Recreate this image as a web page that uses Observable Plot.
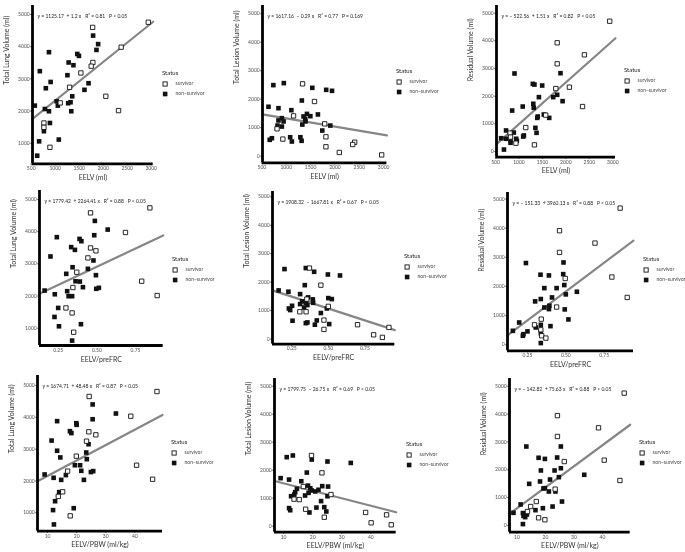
<!DOCTYPE html>
<html>
<head>
<meta charset="utf-8">
<script src="https://cdn.jsdelivr.net/npm/d3@7"></script>
<script src="https://cdn.jsdelivr.net/npm/@observablehq/plot@0.6"></script>
<style>
  body { margin: 0; background: #fff; }
  #chart { position: relative; width: 685px; height: 552px; background: #fff; font-family: Lato, "Open Sans", sans-serif; overflow: hidden; }
  #chart svg { position: absolute; overflow: visible; will-change: transform; }
</style>
</head>
<body>
<div id="chart"></div>
<script>
// ---- Axis titles and ticks ----
const xTitles = ["EELV (ml)", "EELV/preFRC", "EELV/PBW (ml/kg)"];          // one per row
const yTitles = ["Total Lung Volume (ml)", "Total Lesion Volume (ml)", "Residual Volume (ml)"]; // one per column
const eelvTicks = [500, 1000, 1500, 2000, 2500, 3000];
const ratioTicks = [0.25, 0.50, 0.75];
const pbwTicks = [10, 20, 30, 40];
const volumeTicks = [0, 1000, 2000, 3000, 4000, 5000];
const lungTicks = [1000, 2000, 3000, 4000, 5000];
const statusLabels = ["survivor", "non\u2212survivor"];

// ---- Linear fits, one per panel (row-major) ----
const fitIntercept = [1125.17, 1617.16, -522.56, 1779.42, 1908.32, -151.33, 1674.71, 1799.75, -142.82];
const fitSlope     = [1.2, -0.29, 1.51, 2264.41, -1667.81, 3960.13, 48.48, -26.75, 75.63];
const fitR2        = [0.81, 0.77, 0.82, 0.88, 0.67, 0.88, 0.87, 0.69, 0.88];
const fitP         = ["< 0.05", "= 0.169", "< 0.05", "< 0.05", "< 0.05", "< 0.05", "< 0.05", "< 0.05", "< 0.05"];

// ---- Patient values: [x, y] ----
const eelvTlvSurvivor = [[2940,4760],[1780,4600],[2375,3985],[1785,3510],[1750,3395],[1535,3185],[1300,2740],[2055,2460],[2320,2015],[1105,2255],[765,1630],[765,1495],[890,875]];
const eelvTlvNonSurvivor = [[1790,4345],[1895,4080],[1860,3900],[870,3830],[1460,3775],[1495,3715],[1280,3510],[1380,3425],[680,3240],[1255,3115],[905,2905],[1695,2865],[805,2710],[1610,2660],[1355,2460],[1030,2305],[1320,2275],[1270,2245],[1055,2170],[575,2170],[785,2065],[870,1995],[1335,1995],[890,1630],[765,1375],[665,1060],[1075,1115],[625,615]];

const eelvLesionSurvivor = [[1335,2540],[1580,1920],[1150,1415],[1790,1135],[810,960],[930,600],[1815,680],[1815,330],[2405,490],[2365,410],[2090,130],[2960,45]];
const eelvLesionNonSurvivor = [[735,2495],[950,2565],[1535,2400],[1820,2330],[1940,2295],[1320,1955],[635,1735],[840,1685],[1105,1615],[1650,1465],[1425,1485],[1495,1405],[1355,1395],[910,1335],[1390,1310],[840,1255],[945,1220],[1395,1220],[820,1075],[910,1040],[1330,1110],[1905,1075],[1740,900],[705,630],[660,575],[1080,665],[1290,665],[1115,515],[1315,540]];

const eelvRvSurvivor = [[2935,4710],[1815,3930],[1815,3170],[2395,3495],[1785,2275],[2075,2325],[2355,1625],[1570,1315],[1145,865],[810,665],[820,520],[935,300],[1330,240]];
const eelvRvNonSurvivor = [[905,2820],[1885,2830],[1295,2445],[1330,2420],[1495,2385],[1815,2050],[1730,1965],[1425,1965],[1930,1820],[855,1480],[1080,1625],[1305,1725],[1315,1580],[1530,1335],[1400,1265],[1390,1215],[1645,1215],[1350,855],[1375,675],[725,760],[890,685],[620,480],[720,460],[940,460],[820,400],[955,385],[820,315],[1105,580],[1090,540],[680,70]];

const ratioTlvSurvivor = [[0.843,4740],[0.459,4585],[0.685,3975],[0.459,3495],[0.494,3405],[0.442,3185],[0.37,2740],[0.79,2460],[0.89,2015],[0.345,2265],[0.30,1630],[0.34,1475],[0.35,875]];
const ratioTlvNonSurvivor = [[0.487,4335],[0.57,4065],[0.483,3890],[0.241,3830],[0.388,3775],[0.40,3705],[0.334,3520],[0.358,3435],[0.20,3230],[0.478,3105],[0.343,2895],[0.442,2845],[0.302,2690],[0.494,2648],[0.362,2460],[0.39,2450],[0.41,2275],[0.513,2255],[0.496,2225],[0.308,2150],[0.162,2170],[0.228,2055],[0.317,1995],[0.34,1995],[0.25,1630],[0.226,1350],[0.255,1060],[0.397,1125],[0.34,615]];

const ratioLesionSurvivor = [[0.371,2495],[0.449,1895],[0.353,1405],[0.50,1150],[0.305,960],[0.348,960],[0.47,667],[0.47,340],[0.70,505],[0.81,150],[0.87,60],[0.915,410]];
const ratioLesionNonSurvivor = [[0.20,2460],[0.346,2495],[0.403,2365],[0.497,2270],[0.58,2235],[0.339,1895],[0.16,1710],[0.227,1665],[0.307,1580],[0.50,1440],[0.524,1405],[0.362,1465],[0.394,1395],[0.396,1275],[0.321,1325],[0.346,1275],[0.357,1195],[0.307,1230],[0.252,1170],[0.334,1110],[0.23,1075],[0.239,1020],[0.49,1075],[0.449,915],[0.255,645],[0.421,655],[0.357,585],[0.346,560],[0.408,505],[0.506,527]];

const ratioRvSurvivor = [[0.854,4690],[0.459,3915],[0.459,3170],[0.69,3490],[0.496,2275],[0.80,2325],[0.90,1625],[0.44,1295],[0.34,880],[0.296,685],[0.337,515],[0.343,310],[0.37,230]];
const ratioRvNonSurvivor = [[0.24,2805],[0.485,2825],[0.335,2405],[0.39,2380],[0.483,2425],[0.49,2050],[0.36,1945],[0.44,1945],[0.572,1820],[0.50,1730],[0.41,1625],[0.337,1570],[0.30,1490],[0.393,1340],[0.36,1280],[0.39,1225],[0.493,1215],[0.517,870],[0.40,640],[0.304,595],[0.337,685],[0.196,765],[0.25,460],[0.155,480],[0.224,365],[0.22,310],[0.337,400],[0.337,60]];

const pbwTlvSurvivor = [[47.6,4810],[24.3,4655],[38.6,4035],[24.2,3545],[26.6,3450],[23.4,3250],[19.9,2780],[40.6,2495],[46.1,2055],[16.9,2310],[15.2,1660],[13.7,1515],[17.8,905]];
const pbwTlvNonSurvivor = [[25.5,4405],[33.5,4120],[25.5,3940],[13.3,3880],[19.9,3815],[20.0,3765],[17.7,3565],[18.2,3505],[11.4,3270],[24.1,3155],[13.3,2950],[23.3,2895],[14.4,2740],[23.5,2685],[19.4,2495],[21.2,2495],[21.6,2320],[25.7,2310],[24.9,2280],[16.3,2185],[9.0,2205],[12.1,2100],[14.7,2035],[22.5,2035],[14.0,1650],[12.6,1365],[11.9,1085],[19.0,1145],[12.2,635]];

const pbwLesionSurvivor = [[19.6,2525],[23.2,1905],[16.8,1415],[26.3,1130],[13.6,965],[15.4,950],[17.6,605],[24.0,320],[38.2,490],[40.1,120],[45.4,405],[47.0,50]];
const pbwLesionNonSurvivor = [[11.1,2465],[13.2,2525],[19.7,2380],[25.1,2310],[33.1,2260],[18.0,1915],[9.0,1715],[11.9,1665],[16.1,1605],[18.4,1450],[23.3,1430],[25.3,1415],[19.2,1355],[14.6,1335],[22.0,1300],[19.7,1275],[20.9,1240],[14.0,1215],[18.6,1190],[13.7,1130],[12.6,1070],[17.4,1095],[25.1,1070],[22.9,895],[11.9,645],[12.3,570],[21.3,665],[24.0,680],[18.9,490],[24.7,525]];

const pbwRvSurvivor = [[47.6,4750],[24.2,3945],[24.2,3195],[38.6,3505],[26.6,2295],[40.6,2345],[46.1,1615],[23.4,1305],[16.8,860],[14.8,680],[13.7,500],[17.6,275],[19.8,205]];
const pbwRvNonSurvivor = [[13.3,2835],[25.4,2835],[17.6,2430],[19.8,2390],[24.1,2440],[25.4,2055],[18.4,1975],[23.2,1975],[33.6,1820],[24.7,1735],[21.6,1650],[18.1,1580],[14.3,1495],[19.8,1340],[19.3,1330],[21.2,1220],[23.5,1220],[25.8,860],[22.5,680],[19.1,620],[16.5,550],[11.3,755],[8.8,455],[12.1,445],[13.5,395],[12.3,345],[12.9,300],[12.1,50]];

// ---- Panel assembly (row-major) ----
const panelData = [
  [eelvTlvSurvivor, eelvTlvNonSurvivor], [eelvLesionSurvivor, eelvLesionNonSurvivor], [eelvRvSurvivor, eelvRvNonSurvivor],
  [ratioTlvSurvivor, ratioTlvNonSurvivor], [ratioLesionSurvivor, ratioLesionNonSurvivor], [ratioRvSurvivor, ratioRvNonSurvivor],
  [pbwTlvSurvivor, pbwTlvNonSurvivor], [pbwLesionSurvivor, pbwLesionNonSurvivor], [pbwRvSurvivor, pbwRvNonSurvivor]
];
const xTickSets = [eelvTicks, ratioTicks, pbwTicks];
const xTickFormats = [d3.format("d"), d3.format(".2f"), d3.format("d")];
const yTickSets = [lungTicks, volumeTicks, volumeTicks];

// Page layout: plot frame [left, top, right, bottom] in px, scale domains, legend anchor.
const layout = [
  {frame: [32, 5, 152.7, 163.3],      x: [527, 3042],    y: [363, 5280],   legend: [162, 72.5]},
  {frame: [262.3, 5, 386.7, 162.3],   x: [512, 3067],    y: [-232, 5291],  legend: [395.7, 71]},
  {frame: [496, 5, 615, 156.7],       x: [521, 3058],    y: [-206, 5278],  legend: [624, 70]},
  {frame: [39, 190, 162.7, 345],      x: [0.129, 0.929], y: [463, 5280],   legend: [171.7, 259]},
  {frame: [271.7, 190.7, 394, 343.3], x: [0.118, 0.955], y: [-176, 5186],  legend: [404, 256]},
  {frame: [507.3, 191.7, 633.3, 350], x: [0.12, 0.941],  y: [-206, 5226],  legend: [642.7, 259]},
  {frame: [36.7, 375, 161.7, 530.7],  x: [6.56, 49.5],   y: [423, 5314],   legend: [171, 441.7]},
  {frame: [274.3, 378, 396, 531.7],   x: [6.9, 48.7],    y: [-214, 5275],  legend: [406, 444.3]},
  {frame: [509.3, 378, 630, 531.7],   x: [7.4, 49.7],    y: [-240, 5276],  legend: [639.3, 441.7]}
];

const chart = document.getElementById("chart");
const fontFamily = "Lato, 'Open Sans', sans-serif";

function signed(v, first) {
  const s = String(Math.abs(v));
  if (first) return v < 0 ? "\u2212 " + s : s;
  return (v < 0 ? "\u2212 " : "+ ") + s;
}

function equation(i) {
  return `y = ${signed(fitIntercept[i], true)}  ${signed(fitSlope[i], false)} x   R\u00B2 = ${fitR2[i]}   P ${fitP[i]}`;
}

layout.forEach((L, i) => {
  const row = Math.floor(i / 3), col = i % 3;
  const [fl, ft, fr, fb] = L.frame;
  const m = {left: 40, right: 6, top: 6, bottom: 26};
  const [survivors, nonSurvivors] = panelData[i];
  const fit = L.x.map(x => ({x, y: fitIntercept[i] + fitSlope[i] * x}));

  const svg = Plot.plot({
    width: fr - fl + m.left + m.right,
    height: fb - ft + m.top + m.bottom,
    marginLeft: m.left, marginRight: m.right, marginTop: m.top, marginBottom: m.bottom,
    x: {domain: L.x},
    y: {domain: L.y},
    style: {background: "none", fontFamily, overflow: "visible"},
    marks: [
      Plot.axisX({ticks: xTickSets[row], tickFormat: xTickFormats[row], tickSize: 2, tickPadding: 0.8,
                  fontSize: 5, fill: "#4d4d4d", stroke: "#333", label: null}),
      Plot.axisY({ticks: yTickSets[col], tickFormat: d3.format("d"), tickSize: 1.6, tickPadding: 1.2,
                  fontSize: 5, fill: "#4d4d4d", stroke: "#333", label: null}),
      Plot.line(fit, {x: "x", y: "y", stroke: "#868686", strokeWidth: 2.2}),
      Plot.dot(nonSurvivors, {x: d => d[0], y: d => d[1], symbol: "square", r: 2.6, fill: "#111"}),
      Plot.dot(survivors, {x: d => d[0], y: d => d[1], symbol: "square", r: 2.45, fill: "#fff", stroke: "#111", strokeWidth: 0.9}),
      Plot.ruleX([L.x[0]], {stroke: "#000", strokeWidth: 2.8}),
      Plot.ruleY([L.y[0]], {stroke: "#000", strokeWidth: 2.8}),
      Plot.text([yTitles[col]], {text: d => d, frameAnchor: "left", rotate: -90, dx: -26, fontSize: 7, fill: "#333"}),
      Plot.text([xTitles[row]], {text: d => d, frameAnchor: "bottom", lineAnchor: "middle", dy: 14, fontSize: 7, fill: "#333"}),
      Plot.text([equation(i)], {text: d => d, frameAnchor: "top-left", textAnchor: "start", lineAnchor: "middle",
                                dx: 5, dy: 10.8, fontSize: 5, fill: "#222"})
    ]
  });
  svg.style.left = (fl - m.left) + "px";
  svg.style.top = (ft - m.top) + "px";
  chart.appendChild(svg);

  // Status legend
  const [lx, ly] = L.legend;
  const leg = d3.select(chart).append("svg")
    .attr("width", 60).attr("height", 30)
    .style("left", lx + "px").style("top", (ly - 5) + "px")
    .style("font-family", fontFamily);
  leg.append("text").attr("x", 0).attr("y", 5).attr("dominant-baseline", "middle")
    .attr("font-size", 6).attr("fill", "#222").text("Status");
  statusLabels.forEach((label, k) => {
    const cy = 16 + k * 10;
    leg.append("rect").attr("x", 1).attr("y", cy - 2.1).attr("width", 4.2).attr("height", 4.2)
      .attr("fill", k === 0 ? "#fff" : "#111").attr("stroke", "#111").attr("stroke-width", k === 0 ? 0.9 : 0.3);
    leg.append("text").attr("x", 13.5).attr("y", cy).attr("dominant-baseline", "middle")
      .attr("font-size", 5).attr("fill", "#444").text(label);
  });
});
</script>
</body>
</html>
